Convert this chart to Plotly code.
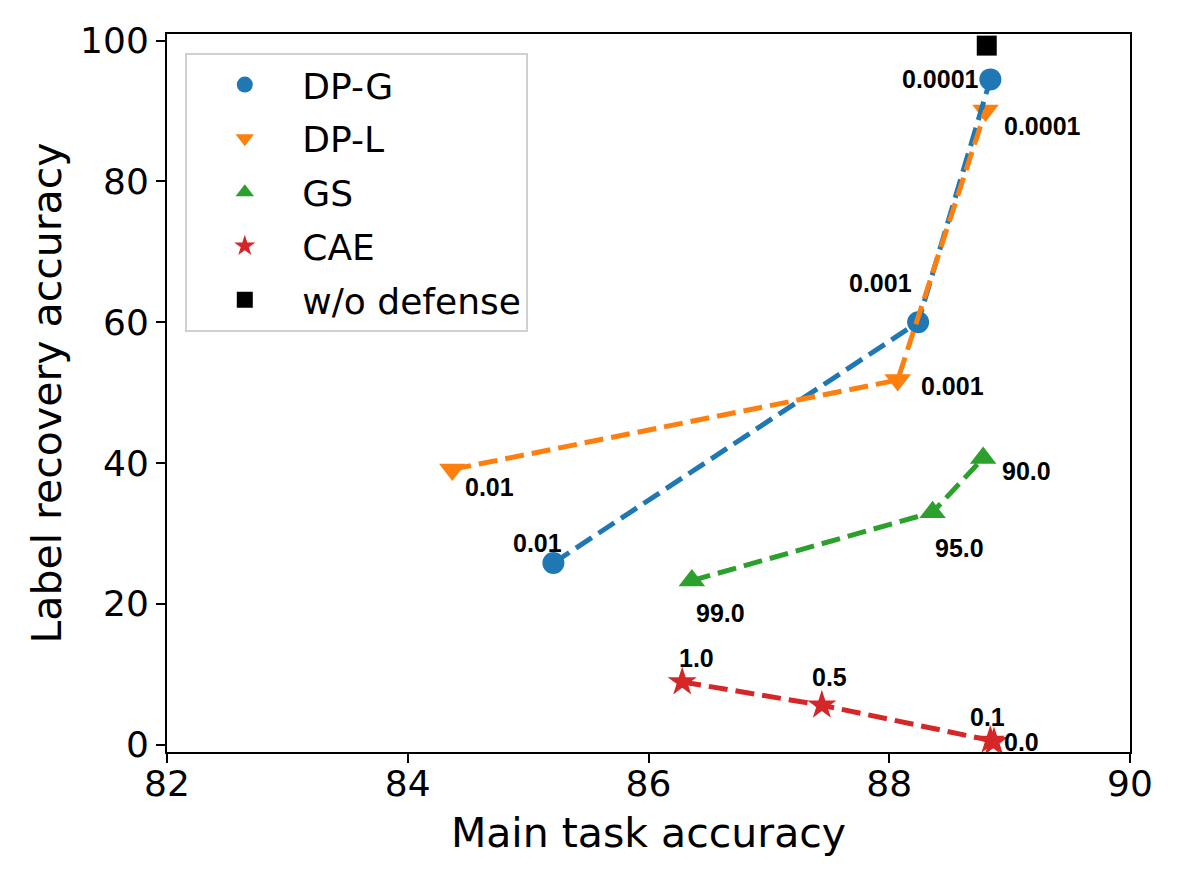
import plotly.graph_objects as go

# values
dpg_x = [85.21, 88.24, 88.84]
dpg_y = [25.8, 60.0, 94.5]
dpg_lab = ["0.01", "0.001", "0.0001"]

dpl_x = [84.37, 88.07, 88.80]
dpl_y = [39.1, 51.8, 90.1]
dpl_lab = ["0.01", "0.001", "0.0001"]

gs_x = [86.36, 88.36, 88.78]
gs_y = [23.3, 33.0, 40.7]
gs_lab = ["99.0", "95.0", "90.0"]

cae_x = [86.28, 87.44, 88.84, 88.87]
cae_y = [8.9, 5.6, 0.6, 0.4]
cae_lab = ["1.0", "0.5", "0.1", "0.0"]

nodef_x = [88.81]
nodef_y = [99.3]

x_ticks = [82, 84, 86, 88, 90]
y_ticks = [0, 20, 40, 60, 80, 100]

series = [
    ("DP-G", dpg_x, dpg_y, dpg_lab, "#1f77b4", "circle", 22),
    ("DP-L", dpl_x, dpl_y, dpl_lab, "#ff7f0e", "triangle-down", 23),
    ("GS", gs_x, gs_y, gs_lab, "#2ca02c", "triangle-up", 23),
    ("CAE", cae_x, cae_y, cae_lab, "#d62728", "star", 22),
]

# label offsets in pixels (dx right, dy up), one per point
offsets = {
    "DP-G": [(-16, 20), (-38, 39), (-50, 0)],
    "DP-L": [(37, -18), (55, -6), (57, -16)],
    "GS": [(29, -32), (27, -36), (43, -13)],
    "CAE": [(14, 24), (8, 28), (-3, 23), (28, 0)],
}

fig = go.Figure()

# markers (for legend)
for name, xs, ys, labs, col, sym, sz in series:
    fig.add_trace(go.Scatter(
        x=xs, y=ys, mode="markers", name=name, legendgroup=name,
        marker=dict(color=col, symbol=sym, size=sz, line=dict(width=0)),
    ))
fig.add_trace(go.Scatter(
    x=nodef_x, y=nodef_y, mode="markers", name="w/o defense", legendgroup="nodef",
    marker=dict(color="black", symbol="square", size=20, line=dict(width=0)),
))

# dashed connecting lines
for name, xs, ys, labs, col, sym, sz in series:
    fig.add_trace(go.Scatter(
        x=xs, y=ys, mode="lines", showlegend=False, hoverinfo="skip",
        line=dict(color=col, width=5, dash="19px,8px"),
    ))

# point labels
for name, xs, ys, labs, col, sym, sz in series:
    for (xv, yv, t, (dx, dy)) in zip(xs, ys, labs, offsets[name]):
        fig.add_annotation(
            x=xv, y=yv, text=t, showarrow=False, xshift=dx, yshift=dy,
            font=dict(family="Liberation Sans", size=25, color="black", weight="bold"),
        )

axis_common = dict(
    showgrid=False, zeroline=False, showline=True, mirror=True,
    linecolor="black", linewidth=2, ticks="outside", ticklen=9, tickwidth=2,
    tickcolor="black", tickfont=dict(family="DejaVu Sans", size=36, color="black"),
)

fig.update_xaxes(
    range=[82, 90], tickvals=x_ticks, ticktext=[str(v) for v in x_ticks],
    ticklabelstandoff=-10,
    title=dict(text="Main task accuracy", standoff=15,
               font=dict(family="DejaVu Sans", size=41, color="black")),
    **axis_common,
)
fig.update_yaxes(
    range=[-1.05, 100.95], tickvals=y_ticks, ticktext=[str(v) for v in y_ticks],
    title=dict(text="Label recovery accuracy", standoff=6,
               font=dict(family="DejaVu Sans", size=41, color="black")),
    **axis_common,
)

fig.update_layout(
    width=1181, height=886,
    margin=dict(l=159, r=59, t=26, b=142),
    plot_bgcolor="white", paper_bgcolor="white",
    legend=dict(
        x=0.019, y=0.974, xanchor="left", yanchor="top",
        bordercolor="#d0d0d0", borderwidth=2, bgcolor="white",
        font=dict(family="DejaVu Sans", size=36, color="black"),
        itemwidth=105, tracegroupgap=4, traceorder="grouped",
    ),
)

fig.write_html("out.html")
